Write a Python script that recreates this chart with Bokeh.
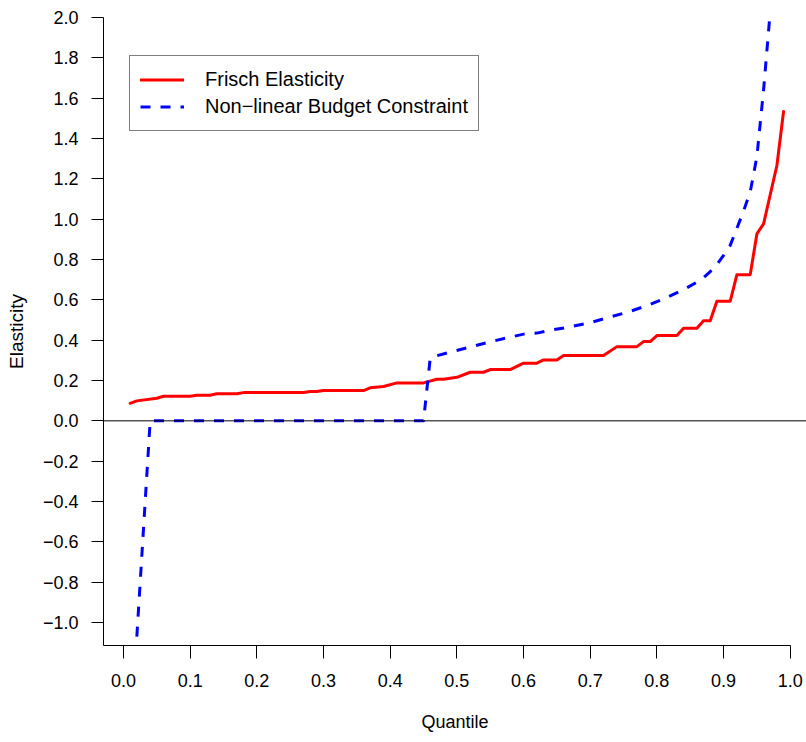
from bokeh.plotting import figure
from bokeh.models import Range1d, FixedTicker, CustomJSTickFormatter, Span, Legend, LegendItem
from bokeh.embed import file_html
from bokeh.resources import INLINE

# Frisch elasticity by quantile (breakpoints)
red_q = [0.01, 0.02, 0.05, 0.06, 0.10, 0.11, 0.13, 0.14, 0.17, 0.18, 0.27, 0.28, 0.29, 0.30,
         0.36, 0.37, 0.39, 0.41, 0.45, 0.47, 0.48, 0.50, 0.52, 0.54, 0.55, 0.58, 0.60, 0.62,
         0.63, 0.65, 0.66, 0.72, 0.74, 0.77, 0.78, 0.79, 0.80, 0.83, 0.84, 0.86, 0.87, 0.88,
         0.89, 0.91, 0.92, 0.94, 0.95, 0.96, 0.98, 0.99]
red_e = [0.087, 0.099, 0.112, 0.122, 0.122, 0.127, 0.127, 0.134, 0.134, 0.140, 0.140, 0.145,
         0.145, 0.150, 0.150, 0.164, 0.170, 0.188, 0.188, 0.206, 0.206, 0.216, 0.241, 0.241,
         0.254, 0.254, 0.286, 0.286, 0.302, 0.302, 0.324, 0.324, 0.368, 0.368, 0.393, 0.393,
         0.423, 0.423, 0.459, 0.459, 0.496, 0.496, 0.593, 0.593, 0.725, 0.725, 0.927, 0.977,
         1.266, 1.534]

# Non-linear budget constraint elasticity by quantile
blue_q = [0.02, 0.04, 0.45, 0.46, 0.47, 0.49, 0.52, 0.55, 0.58, 0.60, 0.62, 0.64, 0.67, 0.70,
          0.73, 0.76, 0.79, 0.81, 0.84, 0.86, 0.87, 0.88, 0.89, 0.90, 0.91, 0.92, 0.93, 0.94,
          0.95, 0.96, 0.97]
blue_e = [-1.07, 0.0, 0.0, 0.31, 0.323, 0.341, 0.366, 0.392, 0.415, 0.43, 0.435, 0.449, 0.466,
          0.487, 0.515, 0.543, 0.577, 0.605, 0.65, 0.688, 0.71, 0.74, 0.775, 0.82, 0.87, 0.955,
          1.04, 1.135, 1.31, 1.64, 2.03]

x_ticks = [0.0, 0.1, 0.2, 0.3, 0.4, 0.5, 0.6, 0.7, 0.8, 0.9, 1.0]
y_ticks = [-1.0, -0.8, -0.6, -0.4, -0.2, 0.0, 0.2, 0.4, 0.6, 0.8, 1.0, 1.2, 1.4, 1.6, 1.8, 2.0]

series_names = ["Frisch Elasticity", "Non\u2212linear Budget Constraint"]
x_title = "Quantile"
y_title = "Elasticity"

FONT = "Liberation Sans"

p = figure(width=806, height=742, output_backend="svg", toolbar_location=None,
           x_range=Range1d(-0.03, 1.0244), y_range=Range1d(-1.114, 2.0),
           min_border_left=103, min_border_right=0, min_border_top=17, min_border_bottom=97)
p.outline_line_color = None
p.grid.visible = False
p.background_fill_color = "white"
p.border_fill_color = "white"

p.add_layout(Span(location=0, dimension="width", line_color="black", line_width=1))

r_red = p.line(red_q, red_e, line_color="#FF0000", line_width=3,
               line_join="round", line_cap="round")
r_blue = p.line(blue_q, blue_e, line_color="#0000FF", line_width=3,
                line_dash="10 10", line_join="round")

xa = p.xaxis[0]
xa.ticker = FixedTicker(ticks=x_ticks)
xa.formatter = CustomJSTickFormatter(code="return tick.toFixed(1);")
xa.bounds = (-0.03, 1.0)
xa.axis_label = x_title

ya = p.yaxis[0]
ya.ticker = FixedTicker(ticks=y_ticks)
ya.formatter = CustomJSTickFormatter(
    code="return (tick < -1e-9 ? '\u2212' : '') + Math.abs(tick).toFixed(1);")
ya.axis_label = y_title

for ax in (xa, ya):
    ax.axis_line_color = "black"
    ax.axis_line_width = 1
    ax.major_tick_line_color = "black"
    ax.major_tick_line_width = 1
    ax.major_tick_in = 0
    ax.minor_tick_in = 0
    ax.minor_tick_out = 0
    ax.major_label_text_font = FONT
    ax.major_label_text_font_size = "18px"
    ax.major_label_text_color = "black"
    ax.axis_label_text_font = FONT
    ax.axis_label_text_font_style = "normal"
    ax.axis_label_text_color = "black"

xa.major_tick_out = 13
xa.major_label_standoff = 15
xa.axis_label_text_font_size = "18px"
xa.axis_label_standoff = 22

ya.major_tick_out = 12
ya.major_label_standoff = 13
ya.axis_label_text_font_size = "19px"
ya.axis_label_standoff = 13

legend = Legend(items=[LegendItem(label=series_names[0], renderers=[r_red]),
                       LegendItem(label=series_names[1], renderers=[r_blue])],
                location=(26, 514))
legend.border_line_color = "black"
legend.border_line_width = 1
legend.background_fill_color = "white"
legend.background_fill_alpha = 1
legend.padding = 10
legend.spacing = 0
legend.margin = 0
legend.glyph_width = 44
legend.glyph_height = 27
legend.label_height = 27
legend.label_standoff = 21
legend.label_text_font = FONT
legend.label_text_font_size = "20px"
legend.label_text_color = "black"
p.add_layout(legend)

open("out.html", "w").write(file_html(p, INLINE))
